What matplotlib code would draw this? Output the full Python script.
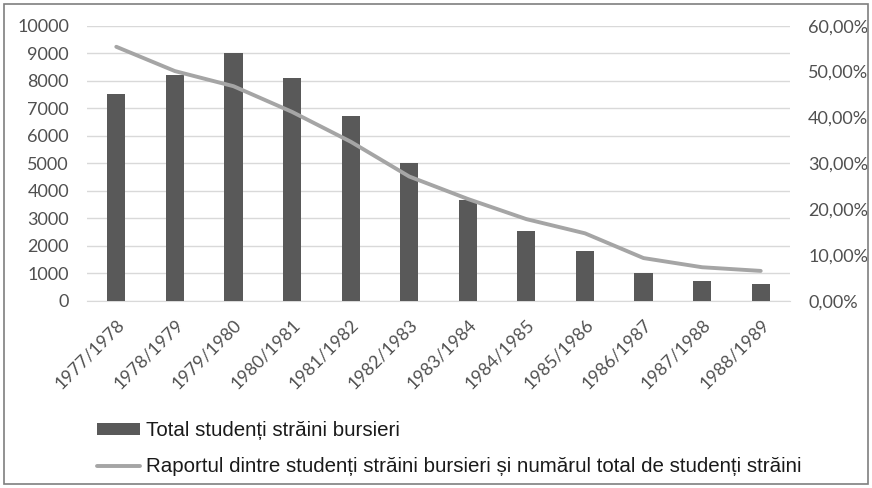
import numpy as np
import matplotlib.pyplot as plt
from matplotlib.ticker import FuncFormatter

# ======================================================
# Data
# ======================================================
years = ["1977/1978", "1978/1979", "1979/1980", "1980/1981", "1981/1982", "1982/1983",
         "1983/1984", "1984/1985", "1985/1986", "1986/1987", "1987/1988", "1988/1989"]
total_bursieri = [7500, 8200, 9000, 8100, 6700, 5000, 3650, 2550, 1820, 1000, 720, 600]
raport_pct = [55.4, 50.1, 46.8, 41.2, 34.7, 27.1, 22.2, 17.8, 14.7, 9.3, 7.3, 6.5]

bar_label = "Total studenți străini bursieri"
line_label = "Raportul dintre studenți străini bursieri și numărul total de studenți străini"

text_col = "#505050"
plt.rcParams['font.family'] = ['Lato', 'DejaVu Sans']

# ======================================================
# Figure
# ======================================================
fig = plt.figure(figsize=(8.72, 4.88), dpi=100)
ax = fig.add_axes([87 / 872, 1 - 300.7 / 488, (790 - 87) / 872, 275 / 488])
ax2 = ax.twinx()

x = np.arange(len(years))
bars = ax.bar(x, total_bursieri, width=0.31, color="#595959", zorder=3)
line, = ax2.plot(x, raport_pct, color="#a5a5a5", linewidth=2.8, zorder=4,
                 solid_capstyle="round")

ax.set_xlim(-0.5, len(years) - 0.5)
ax.set_ylim(0, 10000)
ax.set_yticks(np.arange(0, 10001, 1000))
ax2.set_ylim(0, 60)
ax2.set_yticks(np.arange(0, 61, 10))
ax2.yaxis.set_major_formatter(FuncFormatter(lambda v, p: f"{v:.2f}%".replace(".", ",")))

ax.grid(axis="y", color="#d9d9d9", linewidth=1, zorder=0)
ax.set_axisbelow(True)
for a in (ax, ax2):
    for s in a.spines.values():
        s.set_visible(False)
ax.spines["bottom"].set_visible(True)
ax.spines["bottom"].set_color("#d9d9d9")

ax.tick_params(axis="y", length=0, pad=13, labelsize=13, labelcolor=text_col)
ax2.tick_params(axis="y", length=0, pad=13, labelsize=13, labelcolor=text_col)
ax.tick_params(axis="x", length=0, pad=11, labelsize=12.8, labelcolor=text_col)
ax.set_xticks(x)
ax.set_xticklabels(years, rotation=45, ha="right", rotation_mode="anchor")

ax2.set_zorder(ax.get_zorder() + 1)
ax.patch.set_visible(False)

# legend below the chart
leg = fig.legend([bars, line], [bar_label, line_label], loc="upper left",
                 bbox_to_anchor=(97 / 872, 1 - 421 / 488), frameon=False,
                 labelcolor="#1a1a1a", handlelength=2.1, handleheight=0.55,
                 handletextpad=0.29, labelspacing=0.85, borderpad=0, borderaxespad=0,
                 prop={"family": ["Liberation Sans", "DejaVu Sans"], "size": 14.8})

# outer frame
fig.patches.append(plt.Rectangle((4 / 872, 4 / 488), 1 - 8 / 872, 1 - 8 / 488,
                                 transform=fig.transFigure, fill=False,
                                 edgecolor="#7f7f7f", linewidth=1.2))

fig.savefig("out.png", dpi=100)
